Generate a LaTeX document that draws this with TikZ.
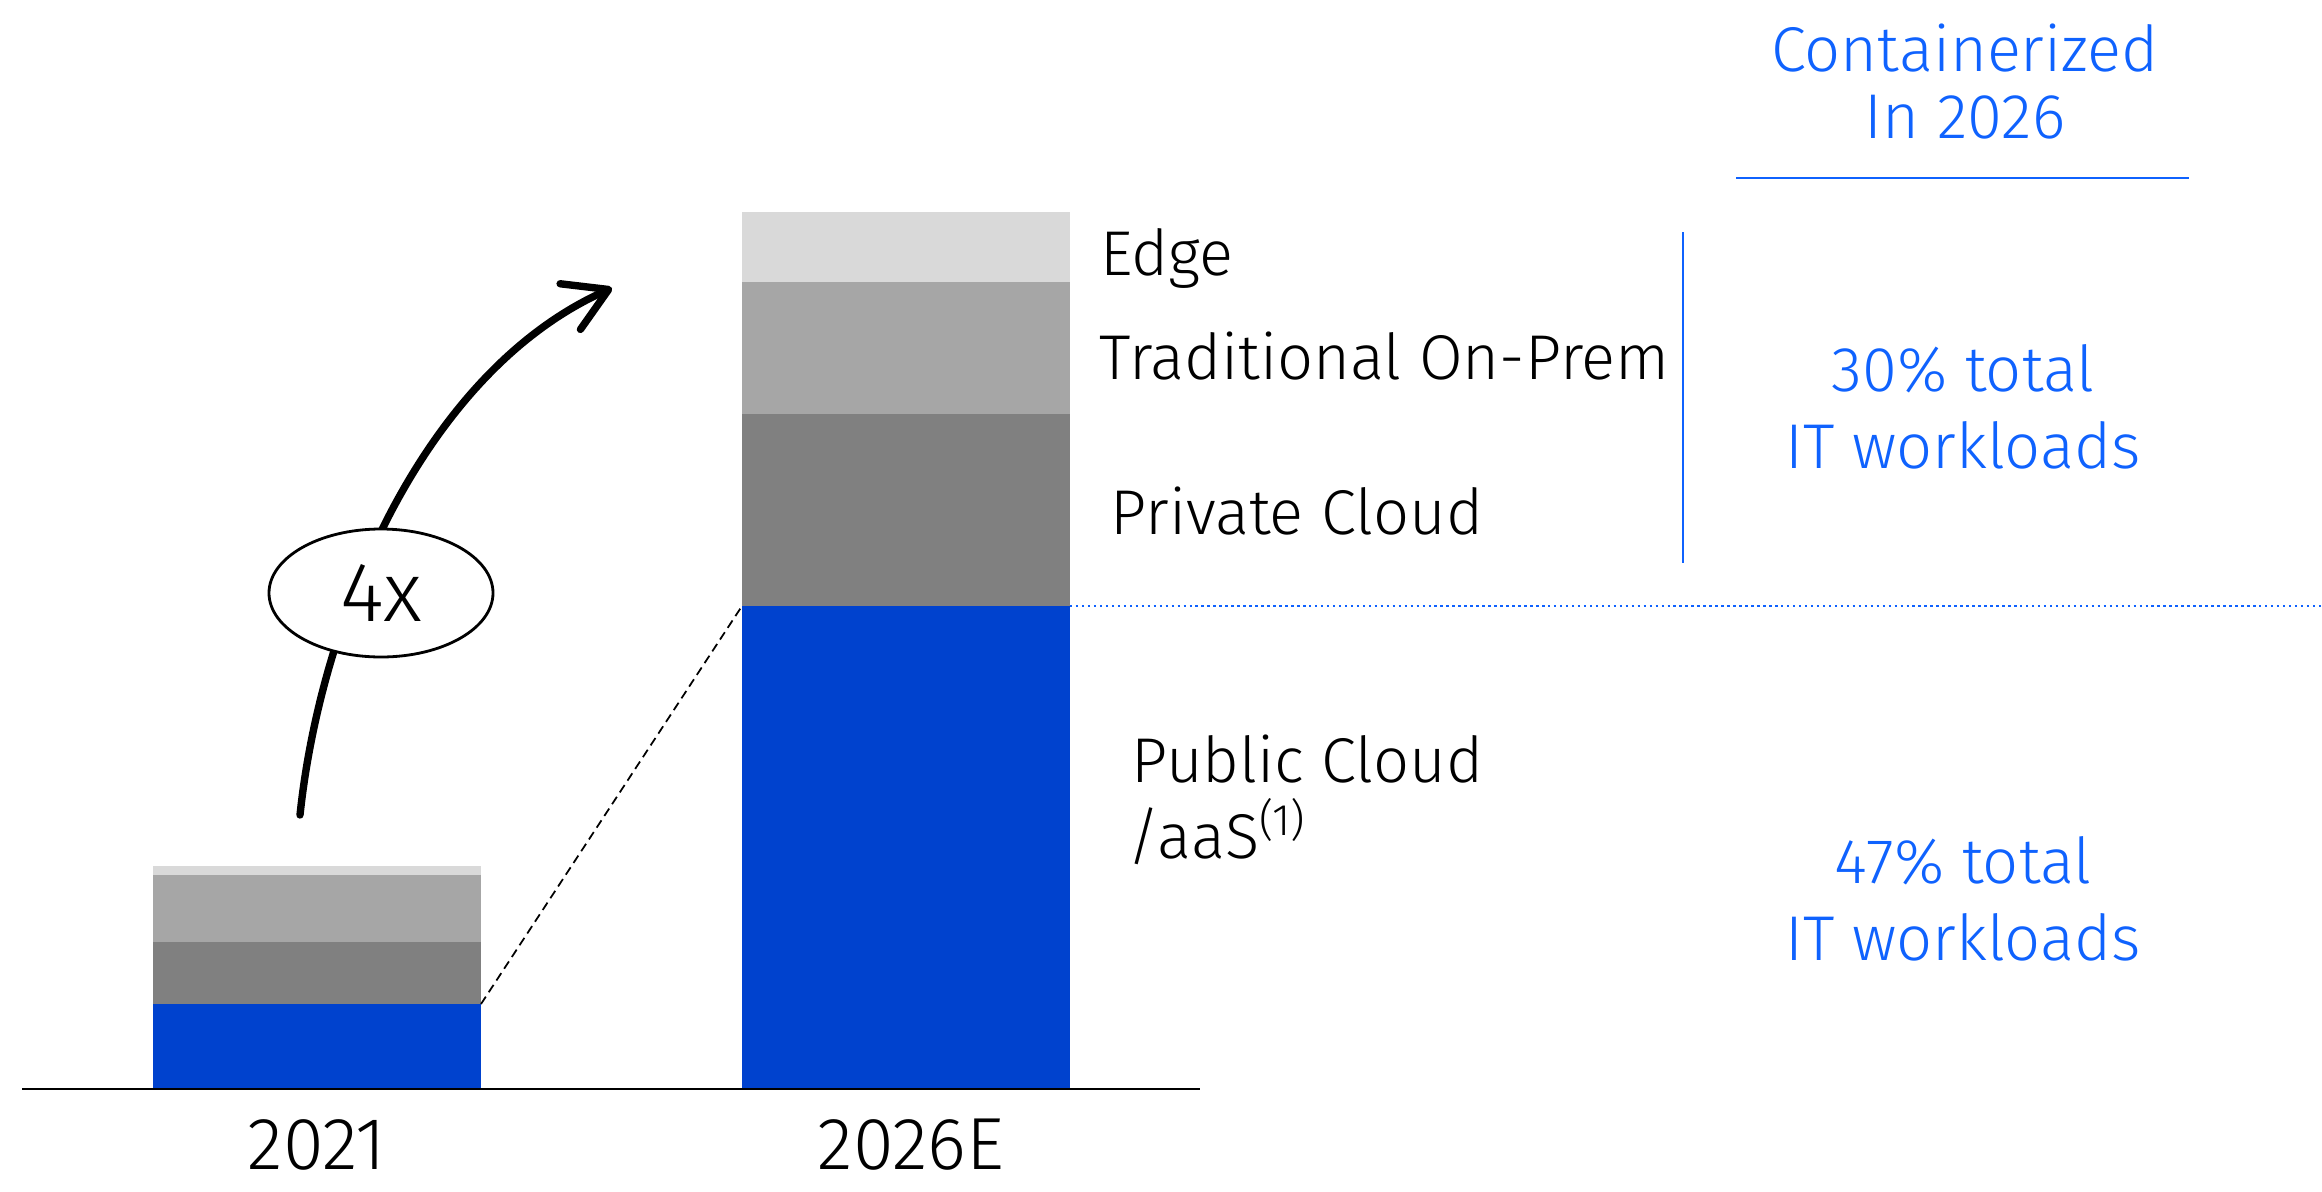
\documentclass[tikz,border=0pt]{standalone}
\usepackage{fontspec}
\setmainfont{Fira Sans}[UprightFont={* Light}]
\usetikzlibrary{arrows.meta,shapes.geometric}
\definecolor{barblue}{RGB}{0,66,206}
\definecolor{txtblue}{RGB}{15,98,254}
\definecolor{edgegray}{RGB}{217,217,217}
\definecolor{tradgray}{RGB}{166,166,166}
\definecolor{privgray}{RGB}{128,128,128}
\tikzset{
  lbl/.style={anchor=base west, inner sep=0pt, font=\fontsize{18}{21.6}\selectfont},
  blu/.style={anchor=base, inner sep=0pt, text=txtblue, font=\fontsize{18}{21.6}\selectfont},
  yr/.style={anchor=base, inner sep=0pt, font=\fontsize{21}{25}\selectfont},
  bigarrow/.style={line width=2.1pt, line cap=round, -{Straight Barb[length=4.2mm,width=5mm,round]}},
}
\begin{document}
\begin{tikzpicture}
\useasboundingbox (0,0) rectangle (23.22,11.91);

% 2021
\fill[barblue]  (1.53,1.03) rectangle (4.81,1.87);
\fill[privgray] (1.53,1.87) rectangle (4.81,2.49);
\fill[tradgray] (1.53,2.49) rectangle (4.81,3.16);
\fill[edgegray] (1.53,3.16) rectangle (4.81,3.25);
% 2026E
\fill[barblue]  (7.42,1.03) rectangle (10.70,5.85);
\fill[privgray] (7.42,5.85) rectangle (10.70,7.77);
\fill[tradgray] (7.42,7.77) rectangle (10.70,9.09);
\fill[edgegray] (7.42,9.09) rectangle (10.70,9.79);

\draw[line width=0.6pt] (0.22,1.02) -- (12.00,1.02);

\coordinate (p0) at (4.81,1.87);
\coordinate (p1) at (7.42,5.85);
\coordinate (p2) at (10.70,5.85);
\coordinate (p3) at (23.22,5.85);
\draw[line width=0.5pt, dash pattern=on 2.5pt off 1.5pt] (p0) -- (p1);
\draw[txtblue, line width=0.7pt, densely dotted] (p2) -- (p3);

\coordinate (a0) at (3.00,3.76);
\coordinate (a1) at (6.12,9.03);
\draw[bigarrow] (a0) to[out=84,in=204,looseness=0.85] (a1);
\node [ellipse, draw, line width=0.8pt, fill=white, minimum width=2.24cm, minimum height=1.28cm, inner sep=0pt, font=\fontsize{24}{28}\selectfont] (n0) at (3.81,5.98) {4x};

\node [lbl] (n1) at (11.00,9.16) {Edge};
\node [lbl] (n2) at (10.99,8.12) {Traditional On-Prem};
\node [lbl] (n3) at (11.10,6.57) {Private Cloud};
\node [lbl] (n4) at (11.31,4.09) {Public Cloud};
\node [lbl] (n5) at (11.27,3.33) {/aaS\textsuperscript{(1)}};

\draw[txtblue, line width=0.6pt] (16.83,9.59) -- (16.83,6.28);
\draw[txtblue, line width=0.8pt] (17.36,10.13) -- (21.89,10.13);

\node [blu] (n6) at (19.65,11.20) {Containerized};
\node [blu] (n7) at (19.65,10.52) {In 2026};
\node [blu] (n8) at (19.63,8.00) {30\% total};
\node [blu] (n9) at (19.63,7.23) {IT workloads};
\node [blu] (n10) at (19.63,3.08) {47\% total};
\node [blu] (n11) at (19.63,2.31) {IT workloads};

\node [yr] (n12) at (3.17,0.22) {2021};
\node [yr] (n13) at (9.11,0.22) {2026E};
\end{tikzpicture}
\end{document}
